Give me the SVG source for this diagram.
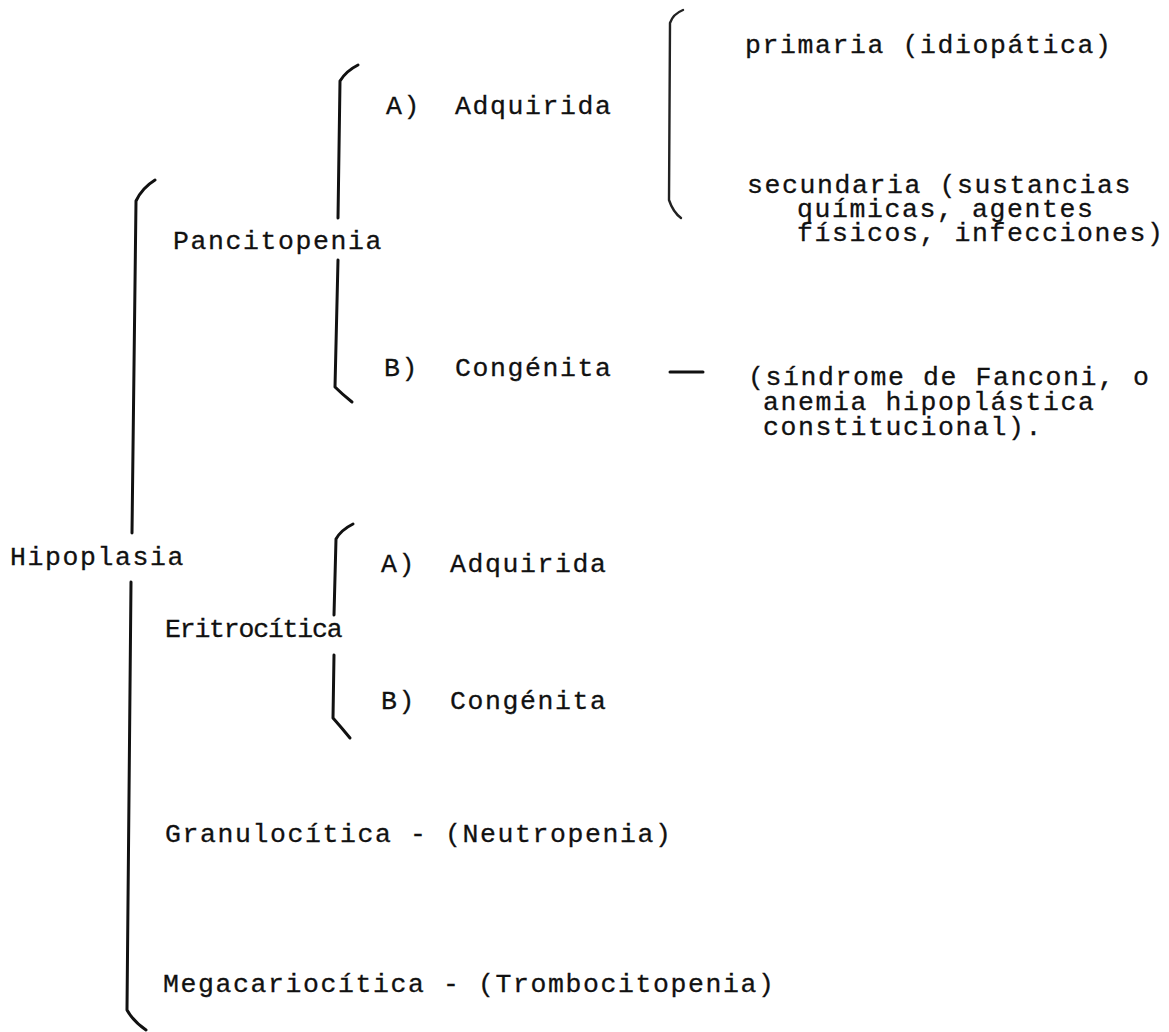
<svg xmlns="http://www.w3.org/2000/svg" width="1169" height="1032" viewBox="0 0 1169 1032">
<style>
  text { font-family: "Liberation Mono", "DejaVu Sans Mono", monospace; font-size: 26.5px; letter-spacing: 1.6px; fill: #111; stroke: #111; stroke-width: 0.3; }
  .narrow { letter-spacing: -1.2px; }
  .brace { fill: none; stroke: #111; stroke-width: 3; stroke-linecap: round; stroke-linejoin: round; }
  .thin { stroke-width: 2.4; stroke: #222; }
</style>
<rect width="1169" height="1032" fill="#ffffff"/>
<g id="connectors">
  <path class="brace" d="M155,180 Q142,188 136,201 L132,533"/>
  <path class="brace" d="M131,582 L127,1010 Q133,1021 146,1030"/>
  <path class="brace" d="M358,65 Q346,71 340,81 L338,218"/>
  <path class="brace" d="M338,260 L335,387 Q342,394 352,402"/>
  <path class="brace thin" d="M683,10 Q673,14 670,23 L669,200 Q673,212 681,218"/>
  <path class="brace" d="M353,524 Q341,530 336,539 L334,615"/>
  <path class="brace" d="M334,655 L333,718 Q341,727 350,738"/>
  <line class="brace" x1="670" y1="372" x2="703" y2="372"/>
</g>
<g id="hipoplasia"><text x="10" y="565">Hipoplasia</text></g>
<g id="pancitopenia"><text x="173" y="249">Pancitopenia</text></g>
<g id="panc-adquirida"><text x="386" y="114">A)</text><text x="455" y="114">Adquirida</text></g>
<g id="primaria"><text x="745" y="53">primaria (idiopática)</text></g>
<g id="secundaria">
  <text x="747" y="193">secundaria (sustancias</text>
  <text x="797" y="217">químicas, agentes</text>
  <text x="797" y="241">físicos, infecciones)</text>
</g>
<g id="panc-congenita"><text x="384" y="376">B)</text><text x="455" y="376">Congénita</text></g>
<g id="fanconi">
  <text x="748" y="385">(síndrome de Fanconi, o</text>
  <text x="763" y="410">anemia hipoplástica</text>
  <text x="763" y="435">constitucional).</text>
</g>
<g id="eritrocitica"><text class="narrow" x="165" y="637">Eritrocítica</text></g>
<g id="erit-adquirida"><text x="381" y="572">A)</text><text x="450" y="572">Adquirida</text></g>
<g id="erit-congenita"><text x="381" y="709">B)</text><text x="450" y="709">Congénita</text></g>
<g id="granulocitica"><text x="165" y="842">Granulocítica - (Neutropenia)</text></g>
<g id="megacariocitica"><text x="163" y="992">Megacariocítica - (Trombocitopenia)</text></g>
</svg>
